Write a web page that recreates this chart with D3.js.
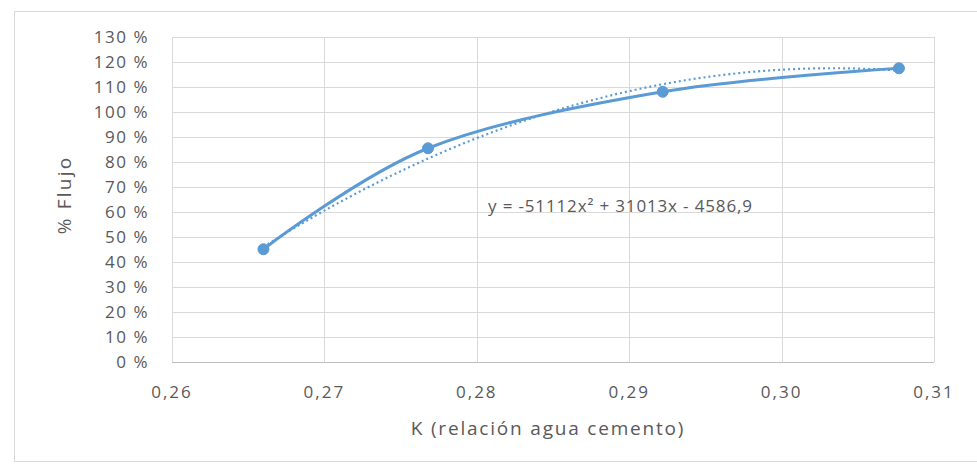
<!DOCTYPE html>
<html>
<head>
<meta charset="utf-8">
<title>Flujo vs K</title>
<style>
  body { margin: 0; background: #fff; }
  svg text { font-family: "Open Sans", "DejaVu Sans", sans-serif; fill: #595959; }
</style>
</head>
<body>
<svg id="chart" width="977" height="464"></svg>
<script src="https://d3js.org/d3.v7.min.js"></script>
<script>
// datos
const kValues = [0.2660, 0.2768, 0.2922, 0.3077];
const flujo = [45.1, 85.5, 108.1, 117.5];
// linea de tendencia polinomica (coeficientes del grafico)
const trendCoef = [-51112, 31013, -4586.9];
const trendText = "y = -51112x² + 31013x - 4586,9";
const xTicks = [0.26, 0.27, 0.28, 0.29, 0.30, 0.31];
const xTickLabels = ["0,26", "0,27", "0,28", "0,29", "0,30", "0,31"];
const yTicks = [0, 10, 20, 30, 40, 50, 60, 70, 80, 90, 100, 110, 120, 130];

const svg = d3.select("#chart");
const blue = "#5b9bd5";

// marco del grafico
svg.append("rect")
    .attr("x", 14.5).attr("y", 11.5)
    .attr("width", 975).attr("height", 450)
    .attr("fill", "#fff")
    .attr("stroke", "#d9d9d9");

const x = d3.scaleLinear().domain([0.26, 0.31]).range([172, 934]);
const y = d3.scaleLinear().domain([0, 130]).range([362, 37]);

const g = svg.append("g");

// rejilla horizontal
g.selectAll("line.h")
  .data(yTicks)
  .enter().append("line")
    .attr("class", "h")
    .attr("x1", x(0.26)).attr("x2", x(0.31))
    .attr("y1", d => Math.round(y(d)) + 0.5)
    .attr("y2", d => Math.round(y(d)) + 0.5)
    .attr("stroke", d => d === 0 ? "#bfbfbf" : "#d9d9d9")
    .attr("stroke-width", 1);

// rejilla vertical
g.selectAll("line.v")
  .data(xTicks)
  .enter().append("line")
    .attr("class", "v")
    .attr("x1", d => Math.round(x(d)) + 0.5)
    .attr("x2", d => Math.round(x(d)) + 0.5)
    .attr("y1", y(130)).attr("y2", y(0))
    .attr("stroke", "#d9d9d9")
    .attr("stroke-width", 1);

// etiquetas eje y
g.selectAll("text.yt")
  .data(yTicks)
  .enter().append("text")
    .attr("class", "yt")
    .attr("x", 149)
    .attr("y", d => y(d))
    .attr("dy", "0.35em")
    .attr("text-anchor", "end")
    .attr("font-size", 17)
    .attr("letter-spacing", 1.5)
    .text(d => d + " %");

// etiquetas eje x
g.selectAll("text.xt")
  .data(xTicks)
  .enter().append("text")
    .attr("class", "xt")
    .attr("x", d => x(d))
    .attr("y", 392)
    .attr("dy", "0.35em")
    .attr("text-anchor", "middle")
    .attr("font-size", 17)
    .attr("letter-spacing", 2)
    .text((d, i) => xTickLabels[i]);

// titulos de ejes
svg.append("text")
    .attr("x", 548)
    .attr("y", 428)
    .attr("dy", "0.35em")
    .attr("text-anchor", "middle")
    .attr("font-size", 19)
    .attr("letter-spacing", 1.8)
    .text("K (relación agua cemento)");

svg.append("text")
    .attr("transform", "translate(64,195) rotate(-90)")
    .attr("dy", "0.35em")
    .attr("text-anchor", "middle")
    .attr("font-size", 19)
    .attr("letter-spacing", 2.2)
    .text("% Flujo");

// linea de tendencia
const trend = d3.range(kValues[0], kValues[kValues.length - 1] + 0.00005, 0.0002)
    .map(k => [k, trendCoef[0] * k * k + trendCoef[1] * k + trendCoef[2]]);

g.append("path")
    .datum(trend)
    .attr("fill", "none")
    .attr("stroke", blue)
    .attr("stroke-width", 2.2)
    .attr("stroke-dasharray", "2,3")
    .attr("d", d3.line().x(d => x(d[0])).y(d => y(d[1])));

// serie suavizada
const pts = kValues.map((k, i) => [k, flujo[i]]);
g.append("path")
    .datum(pts)
    .attr("fill", "none")
    .attr("stroke", blue)
    .attr("stroke-width", 3)
    .attr("stroke-linejoin", "round")
    .attr("d", d3.line().curve(d3.curveCatmullRom.alpha(0)).x(d => x(d[0])).y(d => y(d[1])));

g.selectAll("circle")
  .data(pts)
  .enter().append("circle")
    .attr("cx", d => x(d[0]))
    .attr("cy", d => y(d[1]))
    .attr("r", 5.5)
    .attr("fill", blue)
    .attr("stroke", blue);

// ecuacion
svg.append("text")
    .attr("x", 488)
    .attr("y", 206)
    .attr("dy", "0.35em")
    .attr("font-size", 17)
    .attr("letter-spacing", 0.85)
    .text(trendText);
</script>
</body>
</html>
